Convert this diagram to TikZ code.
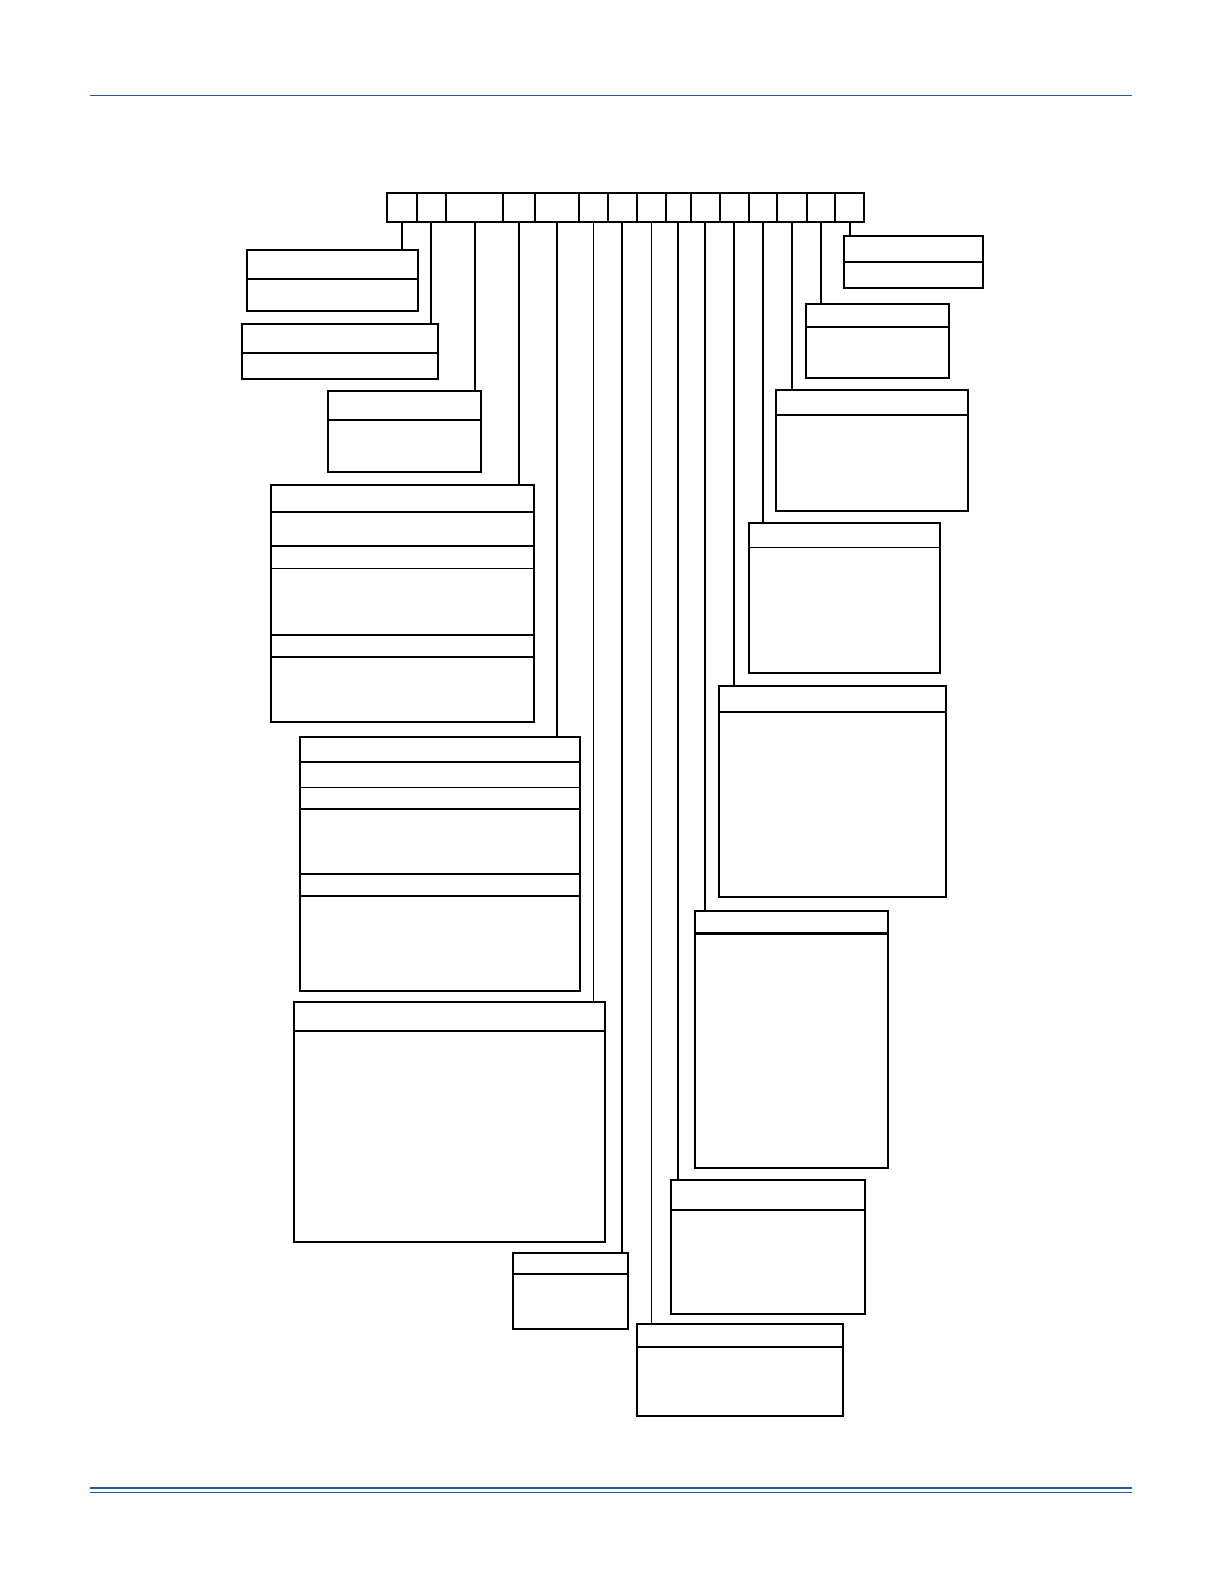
\documentclass[tikz,border=0pt]{standalone}
\usepackage{tikz}
\usetikzlibrary{calc,fit,positioning}
\definecolor{ruleblue}{RGB}{37,88,166}

\begin{document}
\begin{tikzpicture}[x=0.5pt,y=-0.5pt]

\tikzset{cell/.style={draw,line width=1.1pt,inner sep=0pt,outer sep=0pt},
field/.style={draw,line width=1.1pt,inner sep=0pt,outer sep=0pt},
lead/.style={line width=1.1pt},
thinlead/.style={line width=0.5pt}}

\useasboundingbox (0,0) rectangle (1224,1584);

% Page rules
\draw[ruleblue,line width=0.6pt] (90,95.9) -- (1132,95.9);
\draw[ruleblue,line width=1.3pt] (90,1487.8) -- (1132,1487.8);
\draw[ruleblue,line width=0.5pt] (90,1492.7) -- (1132,1492.7);

% Header cells
\foreach \xa/\xb [count=\i] in {387.3/416.7, 416.7/446, 446/503.3, 503.3/534.7, 534.7/578.7, 578.7/608, 608/636.7, 636.7/666, 666/690.7, 690.7/720, 720/748.7, 748.7/777.3, 777.3/806.7, 806.7/835.3, 835.3/864} \node[cell,fit={(\xa,193.3) (\xb,221.7)}] (c\i) {};

% Field boxes, left column
\node[field,fit={(246.7,250) (418.3,310.7)}] (f1) {};
\node[field,fit={(241.7,323.7) (438.3,378.7)}] (f2) {};
\node[field,fit={(327.7,390.7) (481,472.3)}] (f3) {};
\node[field,fit={(271,485) (534,721.7)}] (f4) {};
\node[field,fit={(300,736.7) (580,990.7)}] (f5) {};
\node[field,fit={(293.7,1002) (605,1242)}] (f6) {};
\node[field,fit={(512.7,1252.7) (628.3,1329)}] (f7) {};

% Field boxes, right column
\node[field,fit={(636.7,1323.7) (842.7,1415.7)}] (f8) {};
\node[field,fit={(670.7,1180) (865,1313.7)}] (f9) {};
\node[field,fit={(695,910.7) (888.3,1168.3)}] (f10) {};
\node[field,fit={(719.3,685.7) (946,897.3)}] (f11) {};
\node[field,fit={(748.7,523.3) (940,672.7)}] (f12) {};
\node[field,fit={(776,390) (968.3,510.7)}] (f13) {};
\node[field,fit={(805.7,303.7) (949,377.7)}] (f14) {};
\node[field,fit={(844,236) (983.3,288)}] (f15) {};

% Dividers
\foreach \n/\d in {f1/29, f2/29.3, f3/29.3, f4/27, f4/61, f4/149.7, f4/172, f5/25.3, f5/72, f5/137.3, f5/159, f6/29, f7/21.3, f8/23, f9/30, f10/22.7, f11/26, f13/24.7, f14/23, f15/25.7} \draw[lead] ($(\n.north west)+(0,\d)$) -- ($(\n.north east)+(0,\d)$);
\foreach \n/\d in {f4/83.7, f5/51, f12/24} \draw[thinlead] ($(\n.north west)+(0,\d)$) -- ($(\n.north east)+(0,\d)$); % thin rules

% Leads
\foreach \i/\s in {1/lead, 2/lead, 3/lead, 4/lead, 5/lead, 6/thinlead, 7/lead, 8/thinlead, 9/lead, 10/lead, 11/lead, 12/lead, 13/lead, 14/lead, 15/lead} \draw[\s] (c\i.south) -- (c\i.south |- f\i.north);

\end{tikzpicture}
\end{document}
